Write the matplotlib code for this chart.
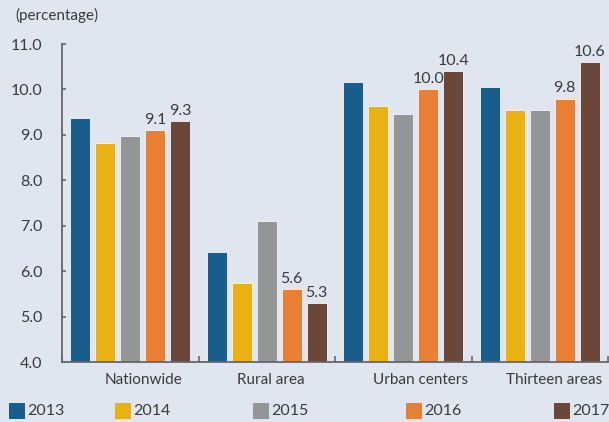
import matplotlib
matplotlib.use("Agg")
import matplotlib.pyplot as plt
import matplotlib.transforms as mtransforms
from matplotlib.patches import Rectangle
import numpy as np

categories = ["Nationwide", "Rural area", "Urban centers", "Thirteen areas"]
years = ["2013", "2014", "2015", "2016", "2017"]
values = {
    "2013": [9.37, 6.42, 10.17, 10.05],
    "2014": [8.82, 5.74, 9.64, 9.55],
    "2015": [8.97, 7.10, 9.46, 9.55],
    "2016": [9.1, 5.6, 10.0, 9.8],
    "2017": [9.3, 5.3, 10.4, 10.6],
}
labelled_years = ["2016", "2017"]
colors = ["#195d8c", "#ebb112", "#949597", "#e97f33", "#6b4739"]
yticks = [4.0, 5.0, 6.0, 7.0, 8.0, 9.0, 10.0, 11.0]

bg = "#e0e6f0"
txt = "#3a3a3a"
plt.rcParams["font.family"] = ["Lato", "DejaVu Sans"]

W, H = 609, 422
fig = plt.figure(figsize=(W / 100, H / 100), dpi=100, facecolor=bg)
ax = fig.add_axes([62 / W, 1 - 362 / H, 546 / W, 318 / H], facecolor=bg)

x = np.arange(len(categories))
slot = 0.183
width = 0.147
for k, (yr, c) in enumerate(zip(years, colors)):
    pos = x + (k - 2) * slot
    bars = ax.bar(pos, values[yr], width=width, bottom=0, color=c,
                  edgecolor="#f4f6fa", linewidth=0.6, zorder=2)
    if yr in labelled_years:
        for b, v in zip(bars, values[yr]):
            ax.text(b.get_x() + b.get_width() / 2, v + 0.07, f"{v:.1f}",
                    ha="center", va="bottom", fontsize=11.5, color=txt)

ax.set_ylim(4.0, 11.0)
ax.set_xlim(-0.5, len(categories) - 0.5)
ax.set_yticks(yticks)
ax.set_yticklabels([f"{t:.1f}" for t in yticks], fontsize=11.5, color=txt)
ax.tick_params(axis="y", direction="in", length=3, width=1.2, color="#666666", pad=14)

ax.set_xticks(x)
ax.set_xticklabels(categories, fontsize=11, color=txt)
ax.set_xticks(np.arange(-0.5, len(categories)), minor=True)
ax.tick_params(axis="x", which="major", length=0, pad=8)
ax.tick_params(axis="x", which="minor", direction="in", length=4, width=1.2, color="#666666")
shifts = [13, 4, 17, 14]
for lab, s in zip(ax.get_xticklabels(), shifts):
    lab.set_transform(lab.get_transform() + mtransforms.ScaledTranslation(s / 100, 0, fig.dpi_scale_trans))

for side in ("top", "right"):
    ax.spines[side].set_visible(False)
for side in ("left", "bottom"):
    ax.spines[side].set_color("#666666")
    ax.spines[side].set_linewidth(1.3)

fig.text(15 / W, 1 - 15 / H, "(percentage)", fontsize=11, color=txt, ha="left", va="center")

# legend row along the bottom
legend_x = [9, 115, 253, 406, 554]
for lx, yr, c in zip(legend_x, years, colors):
    fig.add_artist(Rectangle((lx / W, 1 - 419 / H), 16 / W, 16 / H,
                             transform=fig.transFigure, facecolor=c, edgecolor="none"))
    fig.text((lx + 18) / W, 1 - 411 / H, yr, fontsize=11.5, color=txt, ha="left", va="center")

fig.savefig("out.png", dpi=100, facecolor=bg)
